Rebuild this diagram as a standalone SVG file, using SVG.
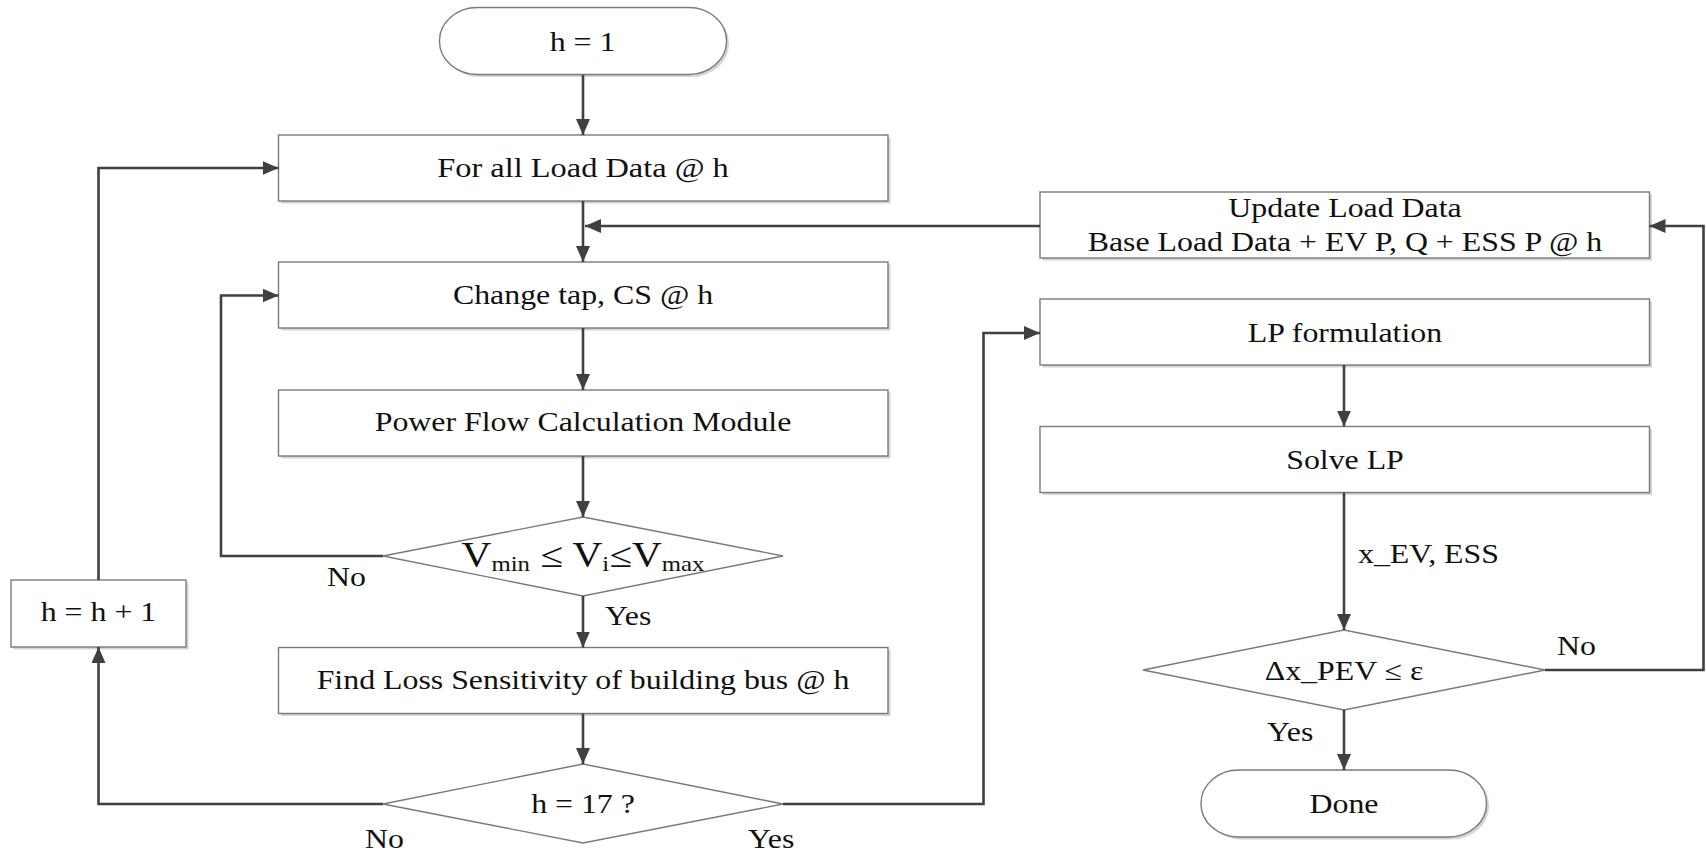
<svg xmlns="http://www.w3.org/2000/svg" width="1706" height="852" viewBox="0 0 1706 852">
<defs>
<marker id="ah" markerUnits="userSpaceOnUse" markerWidth="16" markerHeight="14" refX="16" refY="7" orient="auto">
<path d="M0,0 L16,7 L0,14 z" fill="#404040"/>
</marker>
</defs>
<style>
.box{fill:#fff;stroke:#7a7a7a;stroke-width:1.4}
.sh{fill:#d4d4d4;stroke:none}
.t{font-family:"Liberation Serif","Times New Roman",serif;font-size:27px;fill:#111;text-anchor:middle}
.l{font-family:"Liberation Serif","Times New Roman",serif;font-size:27px;fill:#111;text-anchor:start}
.c{fill:none;stroke:#404040;stroke-width:2.6;marker-end:url(#ah)}
</style>
<rect width="1706" height="852" fill="#fff"/>

<g id="start">
<rect class="sh" x="442" y="10" width="287" height="67" rx="38" ry="33"/>
<rect class="box" x="439.5" y="7.5" width="287" height="67" rx="38" ry="33"/>
<text class="t" transform="translate(582.5,51) scale(1.18,1)">h = 1</text>
</g>

<g id="forall">
<rect class="sh" x="281" y="137.5" width="609.5" height="66"/>
<rect class="box" x="278.5" y="135" width="609.5" height="66"/>
<text class="t" transform="translate(583,177) scale(1.2,1)">For all Load Data @ h</text>
</g>

<g id="changetap">
<rect class="sh" x="281" y="264.5" width="609.5" height="66"/>
<rect class="box" x="278.5" y="262" width="609.5" height="66"/>
<text class="t" transform="translate(583,304) scale(1.18,1)">Change tap, CS @ h</text>
</g>

<g id="powerflow">
<rect class="sh" x="281" y="392.5" width="609.5" height="66"/>
<rect class="box" x="278.5" y="390" width="609.5" height="66"/>
<text class="t" transform="translate(583,431) scale(1.18,1)">Power Flow Calculation Module</text>
</g>

<g id="vcheck">
<polygon class="box" points="583,517 783,556 583,596 383,556"/>
<text class="t" style="font-size:35px" transform="translate(583,567) scale(1.18,1)">V<tspan style="font-size:21px" dy="4">min</tspan><tspan dy="-4"> ≤ V</tspan><tspan style="font-size:21px" dy="4">i</tspan><tspan dy="-4">≤V</tspan><tspan style="font-size:21px" dy="4">max</tspan></text>
</g>

<g id="findloss">
<rect class="sh" x="281" y="650" width="609.5" height="66"/>
<rect class="box" x="278.5" y="647.5" width="609.5" height="66"/>
<text class="t" transform="translate(583,689) scale(1.18,1)">Find Loss Sensitivity of building bus @ h</text>
</g>

<g id="hcheck">
<polygon class="box" points="583,764 783,804 583,843 383,804"/>
<text class="t" transform="translate(583,813) scale(1.18,1)">h = 17 ?</text>
</g>

<g id="hinc">
<rect class="sh" x="13.5" y="582.5" width="175" height="67"/>
<rect class="box" x="11" y="580" width="175" height="67"/>
<text class="t" transform="translate(98.5,621) scale(1.18,1)">h = h + 1</text>
</g>

<g id="update">
<rect class="sh" x="1042.5" y="194.5" width="609.5" height="66"/>
<rect class="box" x="1040" y="192" width="609.5" height="66"/>
<text class="t" transform="translate(1345,217) scale(1.18,1)">Update Load Data</text>
<text class="t" transform="translate(1345,251) scale(1.18,1)">Base Load Data + EV P, Q + ESS P @ h</text>
</g>

<g id="lpform">
<rect class="sh" x="1042.5" y="301.5" width="609.5" height="66"/>
<rect class="box" x="1040" y="299" width="609.5" height="66"/>
<text class="t" transform="translate(1345,342) scale(1.18,1)">LP formulation</text>
</g>

<g id="solvelp">
<rect class="sh" x="1042.5" y="429" width="609.5" height="66"/>
<rect class="box" x="1040" y="426.5" width="609.5" height="66"/>
<text class="t" transform="translate(1345,469) scale(1.18,1)">Solve LP</text>
</g>

<g id="dcheck">
<polygon class="box" points="1344,630 1545,670 1344,710 1143,670"/>
<text class="t" transform="translate(1344,680) scale(1.18,1)">Δx_PEV ≤ ε</text>
</g>

<g id="done">
<rect class="sh" x="1203.5" y="772.5" width="285.5" height="67" rx="38" ry="33"/>
<rect class="box" x="1201" y="770" width="285.5" height="67" rx="38" ry="33"/>
<text class="t" transform="translate(1344,813) scale(1.18,1)">Done</text>
</g>

<g id="connectors">
<path class="c" d="M583,75 V135"/>
<path class="c" d="M583,201 V262"/>
<path class="c" d="M1040,226 H585"/>
<path class="c" d="M583,328 V390"/>
<path class="c" d="M583,456 V517"/>
<path class="c" d="M383,556 H221 V295.5 H278.5"/>
<path class="c" d="M583,596 V647.5"/>
<path class="c" d="M583,713.5 V764"/>
<path class="c" d="M383,804 H98.5 V647"/>
<path class="c" d="M98.5,580 V168 H278.5"/>
<path class="c" d="M783,804 H983.5 V333 H1040"/>
<path class="c" d="M1344,365 V426.5"/>
<path class="c" d="M1344,492.5 V630"/>
<path class="c" d="M1545,670 H1703.5 V226 H1649.5"/>
<path class="c" d="M1344,710 V770"/>
</g>

<g id="labels">
<text class="l" transform="translate(327,586) scale(1.18,1)">No</text>
<text class="l" transform="translate(605,625) scale(1.18,1)">Yes</text>
<text class="l" transform="translate(365,848) scale(1.18,1)">No</text>
<text class="l" transform="translate(748,848) scale(1.18,1)">Yes</text>
<text class="l" transform="translate(1358,563) scale(1.18,1)">x_EV, ESS</text>
<text class="l" transform="translate(1557,655) scale(1.18,1)">No</text>
<text class="l" transform="translate(1267,741) scale(1.18,1)">Yes</text>
</g>
</svg>
